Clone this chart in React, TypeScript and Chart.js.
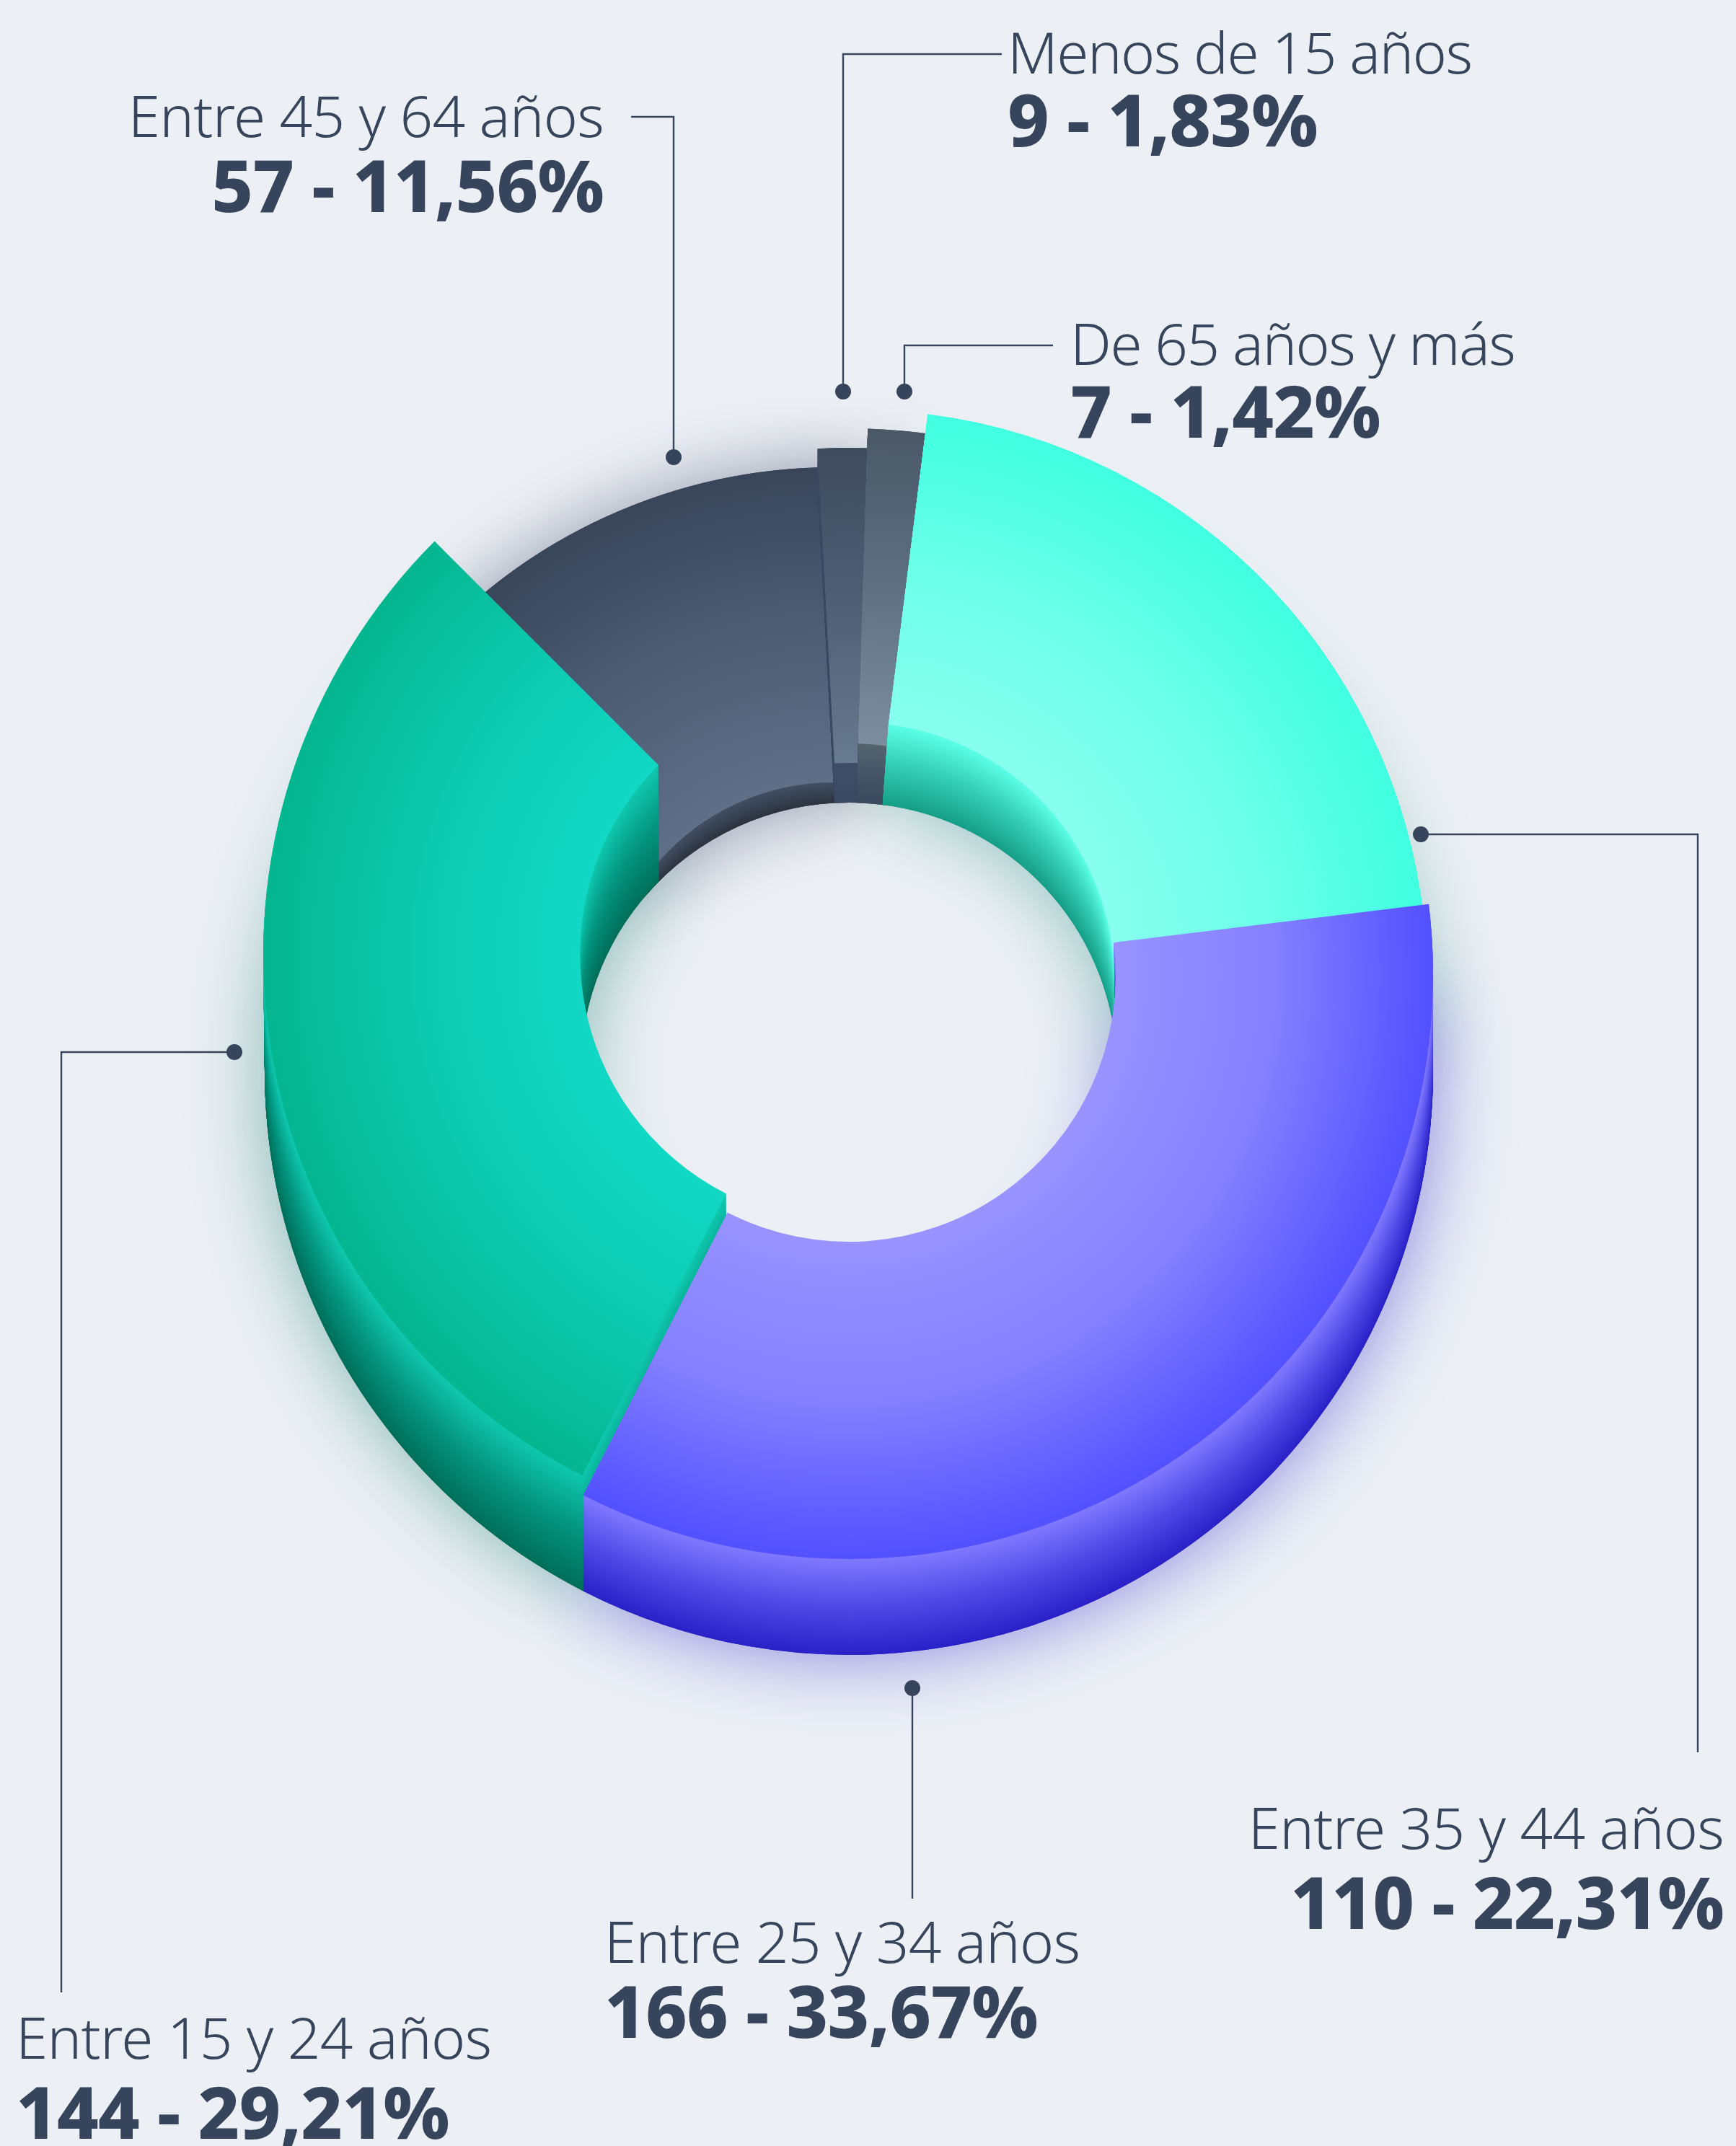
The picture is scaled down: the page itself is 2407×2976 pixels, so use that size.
import React, { useEffect, useRef } from "react";
import { Chart, registerables } from "chart.js";

Chart.register(...registerables);

// ---------- data (clockwise from the dark slice, which is also paint order) ----------
const categories = [
  "Entre 45 y 64 años",
  "Menos de 15 años",
  "De 65 años y más",
  "Entre 35 y 44 años",
  "Entre 25 y 34 años",
  "Entre 15 y 24 años",
];
const counts = [57, 9, 7, 110, 166, 144];
const percents = ["11,56", "1,83", "1,42", "22,31", "33,67", "29,21"];

// ---------- styling ----------
const W = 2407;
const H = 2976;
const BG = "#ecf0f5";
const INK = "#36455c";
const DEPTH = 133;
const BOTTOM_R = 810;
const BOTTOM_r = 372;
const SEAM_DEPTH = 28; // how much of the last slice's wall stays above its neighbour

const sliceShift = [
  { dx: -21, dy: 56, dR: -50, dr: -47, a0: -2, a1: 6 },
  { dx: 1, dy: 96, dR: 17, dr: 20, a0: 2.6, a1: 2.6 },
  { dx: 1, dy: 48, dR: -4, dr: -1, a0: 0.9, a1: 2.7 },
  { dx: 10, dy: 8, dR: -18, dr: -12, a0: 1.2, a1: 0 },
  { dx: 0, dy: 0, dR: 0, dr: 0, a0: -3.3, a1: -0.5 },
  { dx: -1, dy: -28, dR: 1, dr: 2, a0: -0.5, a1: 2.3 },
];
const faceStops = [
  ["#5f6f87", "#4d5d74", "#39465a"],
  ["#687a90", "#505f75", "#3e4b5e"],
  ["#7c8e9e", "#5f7082", "#4a5866"],
  ["#88ffee", "#6cffe9", "#40ffe0"],
  ["#9893ff", "#8480ff", "#5350ff"],
  ["#11d8c4", "#0ccab0", "#05b690"],
];
const wallStops = [
  ["#434f63", "#384353", "#2e3440"],
  ["#3e4c66", "#3e4c66", "#3a4860"],
  ["#55656f", "#465568", "#3b4a5e"],
  ["#5bffe5", "#35cdb5", "#179f88"],
  ["#8079ff", "#4f4ae6", "#2a22c8"],
  ["#0fc8ae", "#05957f", "#006f5a"],
];
const shadows = [
  { color: "rgba(40,48,80,0.30)", face: true },
  { color: "rgba(40,48,80,0.14)", face: true },
  { color: "rgba(40,48,80,0.06)", face: true },
  { color: "rgba(0,120,100,0.40)", face: false },
  { color: "rgba(55,45,205,0.55)", face: false },
  { color: "rgba(0,110,90,0.45)", face: false },
];

const leaders = [
  [[934, 634], [934, 162], [875, 162]],
  [[1169, 543], [1169, 75], [1389, 75]],
  [[1254, 543], [1254, 479], [1460, 479]],
  [[1970, 1157], [2354, 1157], [2354, 2430]],
  [[1265, 2341], [1265, 2633]],
  [[325, 1459], [85, 1459], [85, 2763]],
];
const labelPos = [
  { align: "right", x: 837, y1: 190, y2: 294, ls: -0.7 },
  { align: "left", x: 1397, y1: 102, y2: 203, ls: -1.5 },
  { align: "left", x: 1484, y1: 506, y2: 607, ls: -1.5 },
  { align: "right", x: 2390, y1: 2564, y2: 2675, ls: -0.7 },
  { align: "left", x: 838, y1: 2722, y2: 2826, ls: -0.7 },
  { align: "left", x: 22, y1: 2855, y2: 2966, ls: -0.7 },
];

const hex = (c: string) => [1, 3, 5].map((i) => parseInt(c.slice(i, i + 2), 16));
const mix3 = (stops: string[], t: number) => {
  const s = t < 0.5 ? [stops[0], stops[1], t * 2] : [stops[1], stops[2], (t - 0.5) * 2];
  const a = hex(s[0] as string);
  const b = hex(s[1] as string);
  const k = s[2] as number;
  return `rgb(${a.map((v, i) => Math.round(v + (b[i] - v) * k)).join(",")})`;
};

const sector = (ctx: any, x: number, y: number, R: number, r: number, s: number, e: number) => {
  ctx.beginPath();
  ctx.arc(x, y, R, s, e);
  ctx.arc(x, y, r, e, s, true);
  ctx.closePath();
};

// paints wall layers of one slice from depth `fromPx` up to depth `toPx` below its face
const paintWall = (ctx: any, arc: any, i: number, fromPx: number, toPx: number) => {
  const n = Math.max(2, Math.round(arc.baseY + DEPTH - arc.y));
  for (let k = Math.min(n, fromPx); k >= Math.max(1, toPx); k--) {
    const t = k / n;
    ctx.fillStyle = mix3(wallStops[i], t);
    sector(
      ctx,
      arc.x + (arc.baseX - arc.x) * t,
      arc.y + (arc.baseY + DEPTH - arc.y) * t,
      arc.outerRadius + (BOTTOM_R - arc.outerRadius) * t,
      arc.innerRadius + (BOTTOM_r - arc.innerRadius) * t,
      arc.startAngle,
      arc.endAngle
    );
    ctx.fill();
  }
};

const donut3d = {
  id: "donut3d",
  afterDatasetsUpdate(chart: any) {
    const arcs = chart.getDatasetMeta(0).data;
    const deg = Math.PI / 180;
    arcs.forEach((arc: any, i: number) => {
      const s = sliceShift[i];
      arc.baseX = arc.x;
      arc.baseY = arc.y;
      arc.baseR = arc.outerRadius;
      arc.x += s.dx;
      arc.y += s.dy;
      arc.outerRadius += s.dR;
      arc.innerRadius += s.dr;
      arc.startAngle += s.a0 * deg;
      arc.endAngle += s.a1 * deg;
      arc.circumference = arc.endAngle - arc.startAngle;
      const g = chart.ctx.createRadialGradient(arc.x, arc.y, arc.innerRadius, arc.x, arc.y, arc.outerRadius);
      g.addColorStop(0, faceStops[i][0]);
      g.addColorStop(0.5, faceStops[i][1]);
      g.addColorStop(1, faceStops[i][2]);
      arc.options = { ...arc.options, backgroundColor: g };
    });
  },
  beforeDatasetDraw(chart: any) {
    const ctx = chart.ctx;
    const arcs = chart.getDatasetMeta(0).data;
    // soft glow under the whole ring
    arcs.forEach((arc: any, i: number) => {
      ctx.save();
      ctx.shadowColor = shadows[i].color;
      ctx.shadowBlur = 105;
      ctx.fillStyle = wallStops[i][2];
      sector(ctx, arc.baseX, arc.baseY + DEPTH, BOTTOM_R, BOTTOM_r, arc.startAngle, arc.endAngle);
      ctx.fill();
      if (shadows[i].face) {
        sector(ctx, arc.x, arc.y, arc.outerRadius, arc.innerRadius, arc.startAngle, arc.endAngle);
        ctx.fill();
      }
      ctx.restore();
    });
    const last = arcs.length - 1;
    // extruded body + top face of each slice, in data order; the last slice's
    // deep wall goes under its neighbour, only a thin strip stays on top
    for (let i = 0; i < last - 1; i++) {
      paintWall(ctx, arcs[i], i, 9999, 1);
      arcs[i].draw(ctx);
    }
    paintWall(ctx, arcs[last], last, 9999, SEAM_DEPTH + 1);
    paintWall(ctx, arcs[last - 1], last - 1, 9999, 1);
    arcs[last - 1].draw(ctx);
    paintWall(ctx, arcs[last], last, SEAM_DEPTH, 1);
    arcs[last].draw(ctx);
    return false;
  },
  afterDraw(chart: any) {
    const ctx = chart.ctx;
    ctx.save();
    ctx.strokeStyle = INK;
    ctx.fillStyle = INK;
    ctx.lineWidth = 2.4;
    leaders.forEach((pts) => {
      ctx.beginPath();
      pts.forEach((p, i) => (i ? ctx.lineTo(p[0], p[1]) : ctx.moveTo(p[0], p[1])));
      ctx.stroke();
      ctx.beginPath();
      ctx.arc(pts[0][0], pts[0][1], 11, 0, Math.PI * 2);
      ctx.fill();
    });
    ctx.restore();
  },
};

const baselineTop = (y: number, fs: number) => y - 0.388 * fs;

export default function App() {
  const ref = useRef<HTMLCanvasElement>(null);
  useEffect(() => {
    document.body.style.margin = "0";
    document.body.style.background = BG;
    const chart = new Chart(ref.current as HTMLCanvasElement, {
      type: "doughnut",
      data: {
        labels: categories,
        datasets: [{ data: counts, borderWidth: 0, backgroundColor: "#000" }],
      },
      options: {
        responsive: false,
        animation: false,
        rotation: 312.7,
        radius: 810,
        cutout: "45.68%",
        layout: { padding: { left: 0, top: 0, right: 53, bottom: 272 } },
        plugins: { legend: { display: false }, tooltip: { enabled: false } },
      },
      plugins: [donut3d],
    } as any);
    return () => chart.destroy();
  }, []);

  return (
    <div style={{ position: "absolute", left: 0, top: 0, width: W, height: H, overflow: "hidden", background: BG }}>
      <canvas ref={ref} width={W} height={H} style={{ display: "block", width: W, height: H }} />
      {categories.map((c, i) => {
        const p = labelPos[i];
        const side: any = p.align === "right" ? { right: W - p.x, textAlign: "right" } : { left: p.x };
        const base = {
          position: "absolute",
          whiteSpace: "nowrap",
          lineHeight: 0,
          color: INK,
          fontFamily: '"Noto Sans", sans-serif',
          ...side,
        } as any;
        return (
          <React.Fragment key={c}>
            <div style={{ ...base, top: baselineTop(p.y1, 80), fontSize: 80, fontWeight: 300, letterSpacing: p.ls }}>{c}</div>
            <div style={{ ...base, top: baselineTop(p.y2, 100), fontSize: 100, fontWeight: 800, letterSpacing: -0.8 }}>
              {`${counts[i]} - ${percents[i]}%`}
            </div>
          </React.Fragment>
        );
      })}
    </div>
  );
}
